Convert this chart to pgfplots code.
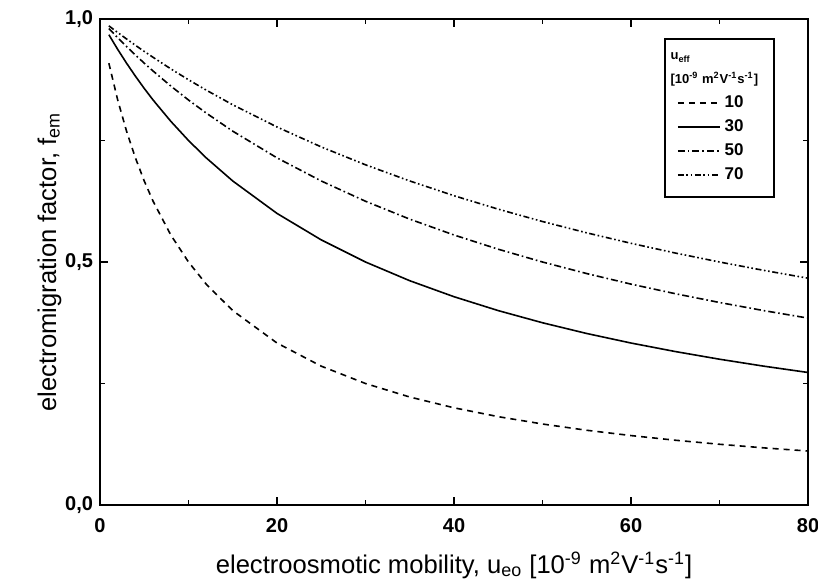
\documentclass[border=0pt]{standalone}
\usepackage{fontspec}
\setmainfont{Liberation Sans}
\usepackage{pgfplots}
\pgfplotsset{compat=1.18}

\begin{document}
\begin{tikzpicture}[x=1pt,y=1pt]
\begin{axis}[
  name=ax,
  width=354pt, height=243pt,
  scale only axis,
  xmin=0, xmax=80, ymin=0, ymax=1,
  xtick={0,20,40,60,80},
  minor xtick={10,30,50,70},
  ytick={0,0.5,1},
  minor ytick={0.25,0.75},
  tick align=inside,
  major tick length=4pt,
  minor tick length=2.5pt,
  axis line style={line width=1.2pt},
  every tick/.style={black, line width=0.9pt},
  tick label style={font=\fontsize{10}{12}\selectfont\bfseries},
  /pgf/number format/assume math mode=true,
  yticklabel style={/pgf/number format/.cd, use comma, fixed, fixed zerofill, precision=1},
  xticklabel style={yshift=-3pt},
  xlabel={electroosmotic mobility, u\textsubscript{eo} [10\textsuperscript{-9} m\textsuperscript{2}V\textsuperscript{-1}s\textsuperscript{-1}]},
  ylabel={electromigration factor, f\textsubscript{em}},
  label style={font=\fontsize{12.8}{14}\selectfont},
  xlabel style={yshift=-3pt},
  ylabel style={yshift=-5pt},
  legend cell align=left,
  legend style={at={(0.797,0.961)}, anchor=north west,
    draw=black, line width=0.9pt, font=\fontsize{8.5}{10}\selectfont\bfseries,
    row sep=0.6pt, inner xsep=6pt, inner ysep=5pt},
  legend image code/.code={\draw[#1, line width=0.7pt] (0pt,0pt) -- (21pt,0pt);},
]
\addlegendimage{empty legend}
\addlegendentry{\makebox[0pt][l]{\hspace{-27pt}\fontsize{6.5}{8}\selectfont u\textsubscript{eff}}}
\addlegendimage{empty legend}
\addlegendentry{\hspace{-27pt}\fontsize{6.5}{8}\selectfont [10\textsuperscript{-9} m\textsuperscript{2}V\textsuperscript{-1}s\textsuperscript{-1}]}

\addplot[black, line width=0.8pt, dash pattern=on 3pt off 2.5pt] coordinates {
(1,0.9091)(2,0.8333)(3,0.7692)(4,0.7143)(5,0.6667)(6,0.625)(8,0.5556)(10,0.5)
(12,0.4545)(15,0.4)(20,0.3333)(25,0.2857)(30,0.25)(35,0.2222)(40,0.2)(45,0.1818)
(50,0.1667)(55,0.1538)(60,0.1429)(65,0.1333)(70,0.125)(75,0.1176)(80,0.1111)};
\addlegendentry{10}

\addplot[black, line width=0.8pt] coordinates {
(1,0.9677)(2,0.9375)(3,0.9091)(4,0.8824)(5,0.8571)(6,0.8333)(8,0.7895)(10,0.75)
(12,0.7143)(15,0.6667)(20,0.6)(25,0.5455)(30,0.5)(35,0.4615)(40,0.4286)(45,0.4)
(50,0.375)(55,0.3529)(60,0.3333)(65,0.3158)(70,0.3)(75,0.2857)(80,0.2727)};
\addlegendentry{30}

\addplot[black, line width=0.8pt, dash pattern=on 3.5pt off 1.5pt on 0.8pt off 1.5pt] coordinates {
(1,0.9804)(2,0.9615)(3,0.9434)(4,0.9259)(5,0.9091)(6,0.8929)(8,0.8621)(10,0.8333)
(12,0.8065)(15,0.7692)(20,0.7143)(25,0.6667)(30,0.625)(35,0.5882)(40,0.5556)(45,0.5263)
(50,0.5)(55,0.4762)(60,0.4545)(65,0.4348)(70,0.4167)(75,0.4)(80,0.3846)};
\addlegendentry{50}

\addplot[black, line width=0.8pt, dash pattern=on 3pt off 1.3pt on 0.8pt off 1.3pt on 0.8pt off 1.3pt] coordinates {
(1,0.9859)(2,0.9722)(3,0.9589)(4,0.9459)(5,0.9333)(6,0.9211)(8,0.8974)(10,0.875)
(12,0.8537)(15,0.8235)(20,0.7778)(25,0.7368)(30,0.7)(35,0.6667)(40,0.6364)(45,0.6087)
(50,0.5833)(55,0.56)(60,0.5385)(65,0.5185)(70,0.5)(75,0.4828)(80,0.4667)};
\addlegendentry{70}
\end{axis}
\pgfresetboundingbox
\path ([xshift=-50pt,yshift=-39.5pt]ax.south west) rectangle ([xshift=5pt,yshift=9.5pt]ax.north east);
\end{tikzpicture}
\end{document}
